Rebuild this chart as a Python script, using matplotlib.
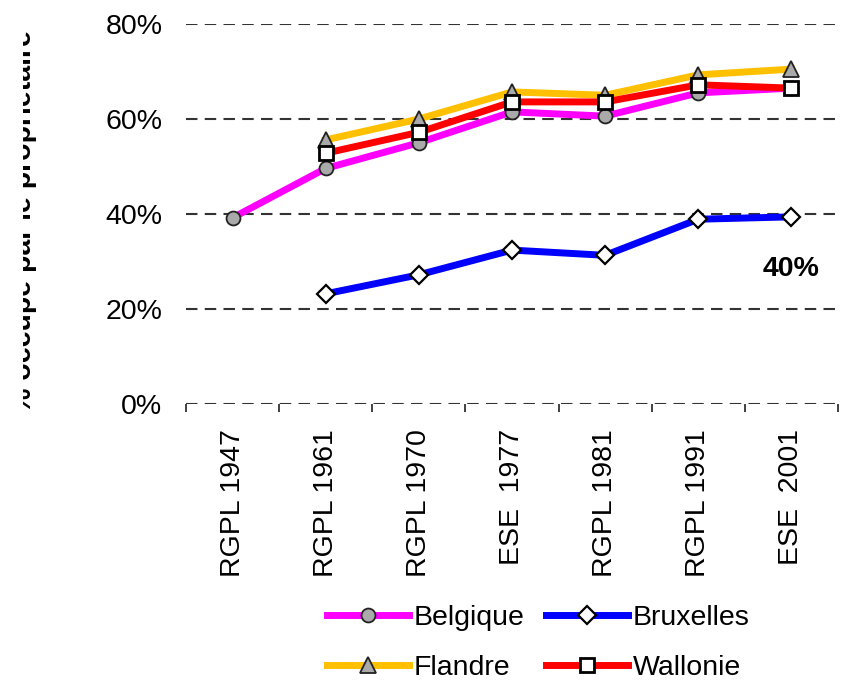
import matplotlib
matplotlib.use("Agg")
import matplotlib.pyplot as plt
from matplotlib.transforms import Bbox, TransformedBbox
import numpy as np

plt.rcParams['font.family'] = ['Liberation Sans', 'DejaVu Sans']

categories = ["RGPL 1947", "RGPL 1961", "RGPL 1970", "ESE  1977", "RGPL 1981", "RGPL 1991", "ESE  2001"]
belgique = [39.2, 49.6, 55.0, 61.5, 60.6, 65.5, 66.5]
bruxelles = [None, 23.2, 27.2, 32.4, 31.3, 38.9, 39.4]
flandre = [None, 55.6, 60.0, 65.7, 65.0, 69.3, 70.5]
wallonie = [None, 52.8, 57.2, 63.6, 63.6, 67.2, 66.5]
yticks = [0, 20, 40, 60, 80]
ytick_labels = ["0%", "20%", "40%", "60%", "80%"]
annotation = "40%"

FS = 20.5

def arr(v):
    return np.array([np.nan if x is None else x for x in v], dtype=float)

fig = plt.figure(figsize=(8.44, 6.83), dpi=100)
ax = fig.add_axes([186/844, 1-404/683, (838-186)/844, (404-24)/683])

x = np.arange(len(categories))
lw = 5
ms = 10.5
h1, = ax.plot(x, arr(belgique), color="#FF00FF", lw=lw, marker="o", ms=ms - 0.5,
              mfc="#AAAAAA", mec="#222222", mew=1.3, label="Belgique", zorder=3)
h3, = ax.plot(x, arr(flandre), color="#FFC000", lw=lw, marker="^", ms=ms + 0.5,
              mfc="#AAAAAA", mec="#222222", mew=1.3, label="Flandre", zorder=4)
h4, = ax.plot(x, arr(wallonie), color="#FF0000", lw=lw, marker="s", ms=ms - 0.5,
              mfc="white", mec="black", mew=2.0, label="Wallonie", zorder=5)
h2, = ax.plot(x, arr(bruxelles), color="#0000FF", lw=lw, marker="D", ms=ms - 1.5,
              mfc="white", mec="black", mew=1.6, label="Bruxelles", zorder=3)

ax.set_xlim(-0.5, len(categories) - 0.5)
ax.set_ylim(0, 80)
ax.set_yticks(yticks)
ax.set_yticklabels(ytick_labels, fontsize=FS)
for yv in yticks:
    ax.axhline(yv, color="#333333", lw=1.5, ls=(0, (5.5, 3.5)), zorder=1)

for s in ["left", "right", "top", "bottom"]:
    ax.spines[s].set_visible(False)
ax.tick_params(axis="y", length=0, pad=17)
ax.set_xticks(x)
ax.set_xticklabels(categories, rotation=90, fontsize=FS)
ax.tick_params(axis="x", length=0, pad=18)
ax.set_xticks(np.arange(len(categories) + 1) - 0.5, minor=True)
ax.tick_params(axis="x", which="minor", length=6, width=1.3, color="#333333", direction="out")

ax.text(x[-1], 28.5, annotation, fontsize=FS, fontweight="bold", ha="center", va="center")

yl = fig.text(37/844, 1-222/683, "% occupé par le propriétaire", rotation=90,
              fontsize=FS, fontweight="bold", ha="right", va="center")
yl.set_clip_box(TransformedBbox(Bbox([[23/844, 0], [1, 1]]), fig.transFigure))
yl.set_clip_on(True)

fig.legend(handles=[h1, h3, h2, h4], labels=["Belgique", "Flandre", "Bruxelles", "Wallonie"],
           ncol=2, loc="center", bbox_to_anchor=(538/844, 1-643/683), frameon=False,
           fontsize=FS, handlelength=2.9, handletextpad=0.15, columnspacing=0.75,
           labelspacing=0.85)

fig.savefig("out.png", dpi=100)
